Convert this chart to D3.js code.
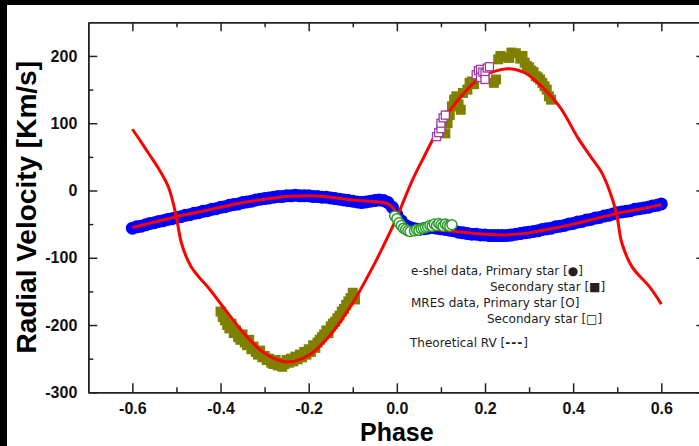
<!DOCTYPE html>
<html>
<head>
<meta charset="utf-8">
<script src="https://cdn.jsdelivr.net/npm/d3@7"></script>
<style>
  body { margin: 0; background: #000; }
  svg { display: block; }
  .tick text { font-family: "Liberation Sans", Arial, sans-serif; font-weight: bold; font-size: 16px; fill: #111; }
  .axis path, .axis line { stroke: #222; stroke-width: 1.5px; }
  .legend { font-family: "DejaVu Sans", sans-serif; font-size: 12px; fill: #222; }
</style>
</head>
<body>
<svg id="plot"></svg>
<script>
// e-shel primary star RV [phase, km/s]
const eshelPrimary = [
  [-0.60,-56],[-0.59,-54],[-0.58,-53],[-0.57,-51],[-0.56,-49],[-0.55,-48],[-0.54,-46],[-0.53,-45],
  [-0.52,-43],[-0.51,-42],[-0.50,-40],[-0.49,-39],[-0.48,-37],[-0.47,-36],[-0.46,-34],[-0.45,-33],
  [-0.44,-31],[-0.43,-30],[-0.42,-28],[-0.41,-27],[-0.40,-25],[-0.39,-24],[-0.38,-22],[-0.37,-21],
  [-0.36,-20],[-0.35,-18],[-0.34,-17],[-0.33,-16],[-0.32,-14],[-0.31,-13],[-0.30,-12],[-0.29,-11],
  [-0.28,-10],[-0.27,-9],[-0.26,-9],[-0.25,-8],[-0.24,-8],[-0.23,-7],[-0.22,-8],[-0.21,-8],
  [-0.20,-8],[-0.19,-9],[-0.18,-9],[-0.17,-10],[-0.16,-10],[-0.15,-11],[-0.14,-12],[-0.13,-13],
  [-0.12,-14],[-0.11,-15],[-0.10,-16],[-0.09,-17],[-0.08,-18],[-0.07,-17],[-0.06,-16],[-0.05,-15],
  [-0.04,-14],[-0.03,-15],[-0.02,-18],[-0.01,-25],[0.00,-36],[0.01,-45],[0.02,-52],[0.03,-55],
  [0.04,-57],[0.05,-58],[0.06,-57],[0.07,-56],[0.08,-55],[0.09,-56],[0.10,-57],[0.11,-58],
  [0.12,-59],[0.13,-60],[0.14,-62],[0.15,-63],[0.16,-64],[0.17,-65],[0.18,-65],[0.19,-66],
  [0.20,-66],[0.21,-67],[0.22,-67],[0.23,-67],[0.24,-67],[0.25,-67],[0.26,-66],[0.27,-65],
  [0.28,-64],[0.29,-63],[0.30,-62],[0.31,-61],[0.32,-60],[0.33,-58],[0.34,-57],[0.35,-56],
  [0.36,-54],[0.37,-53],[0.38,-52],[0.39,-50],[0.40,-49],[0.41,-47],[0.42,-46],[0.43,-44],
  [0.44,-43],[0.45,-41],[0.46,-40],[0.47,-38],[0.48,-37],[0.49,-35],[0.50,-33],[0.51,-32],
  [0.52,-31],[0.53,-30],[0.54,-28],[0.55,-27],[0.56,-26],[0.57,-25],[0.58,-23],[0.59,-22],[0.60,-20]
];

// e-shel secondary star RV
const eshelSecondary = [
  [-0.40,-180],[-0.395,-188],[-0.39,-193],[-0.385,-200],[-0.38,-205],[-0.375,-198],[-0.37,-212],
  [-0.365,-208],[-0.36,-218],[-0.355,-222],[-0.35,-214],[-0.345,-226],[-0.34,-230],[-0.335,-222],
  [-0.33,-236],[-0.325,-232],[-0.32,-240],[-0.315,-244],[-0.31,-238],[-0.305,-248],[-0.30,-246],
  [-0.295,-252],[-0.29,-250],[-0.285,-256],[-0.28,-258],[-0.275,-252],[-0.27,-260],[-0.265,-256],
  [-0.26,-262],[-0.255,-258],[-0.25,-252],[-0.245,-256],[-0.24,-250],[-0.235,-254],[-0.23,-247],
  [-0.225,-251],[-0.22,-244],[-0.215,-248],[-0.21,-240],[-0.205,-244],[-0.20,-236],[-0.195,-240],
  [-0.19,-230],[-0.185,-234],[-0.18,-226],[-0.175,-222],[-0.17,-218],[-0.165,-214],[-0.16,-208],
  [-0.155,-212],[-0.15,-202],[-0.145,-198],[-0.14,-195],[-0.135,-190],[-0.13,-186],[-0.125,-180],
  [-0.12,-176],[-0.115,-170],[-0.11,-165],[-0.105,-160],[-0.10,-152],[-0.095,-162],
  [0.11,85],[0.115,100],[0.12,112],[0.125,125],[0.13,135],[0.135,140],[0.14,128],[0.145,120],
  [0.15,145],[0.16,150],[0.165,160],[0.17,162],[0.175,158],[0.19,175],[0.20,178],[0.22,160],
  [0.225,165],[0.23,195],[0.235,200],[0.24,198],[0.255,197],[0.26,205],[0.27,204],[0.28,196],
  [0.285,200],[0.29,190],[0.295,185],[0.30,183],[0.305,178],[0.31,176],[0.315,170],[0.32,168],
  [0.325,165],[0.33,160],[0.335,155],[0.34,150],[0.345,140],[0.35,135]
];

// MRES primary star RV
const mresPrimary = [
  [-0.005,-38],[0,-42],[0.005,-48],[0.01,-52],[0.015,-56],[0.02,-58],[0.025,-60],[0.03,-61],
  [0.04,-60],[0.045,-58],[0.05,-59],[0.055,-57],[0.06,-56],[0.065,-55],[0.07,-54],[0.075,-52],
  [0.08,-53],[0.085,-50],[0.09,-52],[0.095,-49],[0.1,-51],[0.105,-53],[0.11,-50],[0.115,-52],
  [0.12,-53],[0.125,-51]
];

// MRES secondary star RV
const mresSecondary = [
  [0.09,80],[0.095,86],[0.1,92],[0.1,100],[0.105,108],[0.11,112],
  [0.18,172],[0.185,178],[0.19,180],[0.19,168],[0.195,176],[0.2,174],[0.205,182],[0.21,184],[0.2,165]
];

// theoretical RV curves
const theoPrimary = [
  [-0.6,-55],[-0.55,-47],[-0.5,-39],[-0.45,-32],[-0.4,-25],[-0.35,-18],[-0.3,-13],[-0.25,-9],
  [-0.2,-8],[-0.15,-10],[-0.1,-14],[-0.06,-16],[-0.04,-17],[-0.02,-20],[-0.01,-25],[0,-35],
  [0.01,-45],[0.02,-52],[0.03,-56],[0.05,-58],[0.1,-59],[0.15,-62],[0.2,-65],[0.25,-66],
  [0.3,-63],[0.35,-57],[0.4,-50],[0.45,-42],[0.5,-34],[0.55,-28],[0.6,-21]
];
const theoSecondary = [
  [-0.6,91],[-0.58,72],[-0.56,52],[-0.54,32],[-0.52,8],[-0.51,-12],[-0.5,-40],[-0.49,-75],
  [-0.48,-95],[-0.466,-114],[-0.45,-128],[-0.427,-145],[-0.4,-168],[-0.35,-210],[-0.3,-242],
  [-0.25,-255],[-0.2,-245],[-0.15,-214],[-0.1,-167],[-0.05,-108],[-0.02,-68],[0,-40],[0.035,15],
  [0.06,48],[0.11,109],[0.16,150],[0.19,168],[0.25,181],[0.29,175],[0.32,160],[0.37,124],
  [0.41,79],[0.44,50],[0.466,25],[0.49,-15],[0.5,-40],[0.51,-77],[0.534,-114],[0.573,-143],[0.6,-169]
];

// tick values
const xMajor = [-0.6, -0.4, -0.2, 0.0, 0.2, 0.4, 0.6];
const xMinor = [-0.5, -0.3, -0.1, 0.1, 0.3, 0.5];
const yMajor = [-300, -200, -100, 0, 100, 200];
const yMinor = [-250, -150, -50, 50, 150];

const legendLines = [
  "e-shel data, Primary star [\u25CF]",
  "Secondary star [\u25A0]",
  "MRES data, Primary star [O]",
  "Secondary star [\u25A1]"
];

// init setting
const W = 699, H = 446;
const svg = d3.select("#plot").attr("width", W).attr("height", H);

// black frame on top/left, white canvas
svg.append("rect").attr("width", W).attr("height", H).attr("fill", "#000");
svg.append("rect").attr("x", 7).attr("y", 5).attr("width", W - 7).attr("height", H - 5).attr("fill", "#fff");

const margin = { left: 88.3, right: 705.4, top: 22.3, bottom: 392.3 };
const x = d3.scaleLinear().domain([-0.7, 0.7]).range([margin.left, margin.right]);
const y = d3.scaleLinear().domain([-300, 250]).range([margin.bottom, margin.top]);

// axes (ticks point inward), plain hyphen as minus sign
function addAxis(axis, tx, ty) {
  svg.append("g").attr("class", "axis").attr("transform", `translate(${tx},${ty})`).call(axis);
}
addAxis(d3.axisBottom(x).tickValues(xMajor).tickSize(-9).tickSizeOuter(0).tickPadding(10).tickFormat(d => d.toFixed(1)), 0, margin.bottom);
addAxis(d3.axisBottom(x).tickValues(xMinor).tickSize(-5).tickSizeOuter(0).tickFormat(""), 0, margin.bottom);
addAxis(d3.axisTop(x).tickValues(xMajor).tickSize(-9).tickSizeOuter(0).tickFormat(""), 0, margin.top);
addAxis(d3.axisTop(x).tickValues(xMinor).tickSize(-5).tickSizeOuter(0).tickFormat(""), 0, margin.top);
addAxis(d3.axisLeft(y).tickValues(yMajor).tickSize(-9).tickSizeOuter(0).tickPadding(11).tickFormat(d => String(d)), margin.left, 0);
addAxis(d3.axisLeft(y).tickValues(yMinor).tickSize(-5).tickSizeOuter(0).tickFormat(""), margin.left, 0);
addAxis(d3.axisRight(y).tickValues(yMajor).tickSize(-9).tickSizeOuter(0).tickFormat(""), margin.right, 0);
addAxis(d3.axisRight(y).tickValues(yMinor).tickSize(-5).tickSizeOuter(0).tickFormat(""), margin.right, 0);

// e-shel secondary (olive squares)
const sq = 10;
svg.append("g").selectAll("rect")
  .data(eshelSecondary).enter().append("rect")
  .attr("x", d => x(d[0]) - sq / 2)
  .attr("y", d => y(d[1]) - sq / 2)
  .attr("width", sq).attr("height", sq)
  .attr("fill", "#808000");

// e-shel primary (blue dots)
svg.append("g").selectAll("circle")
  .data(eshelPrimary).enter().append("circle")
  .attr("cx", d => x(d[0]))
  .attr("cy", d => y(d[1]))
  .attr("r", 6.5)
  .attr("fill", "#0000ff");

// theoretical curves
const line = d3.line().x(d => x(d[0])).y(d => y(d[1])).curve(d3.curveCatmullRom);
[theoPrimary, theoSecondary].forEach(c => {
  svg.append("path").attr("d", line(c))
    .attr("fill", "none").attr("stroke", "#ff0000").attr("stroke-width", 3);
});

// MRES secondary (open squares)
const msq = 8;
svg.append("g").selectAll("rect")
  .data(mresSecondary).enter().append("rect")
  .attr("x", d => x(d[0]) - msq / 2)
  .attr("y", d => y(d[1]) - msq / 2)
  .attr("width", msq).attr("height", msq)
  .attr("fill", "#fff").attr("stroke", "#a03ca0").attr("stroke-width", 1.3);

// MRES primary (open circles)
svg.append("g").selectAll("circle")
  .data(mresPrimary).enter().append("circle")
  .attr("cx", d => x(d[0]))
  .attr("cy", d => y(d[1]))
  .attr("r", 5)
  .attr("fill", "#fff").attr("stroke", "#2a9a2a").attr("stroke-width", 1.5);

// legend
const legendPos = [[411, 275], [490, 291], [411, 307], [487, 323]];
legendLines.forEach((t, i) => {
  svg.append("text").attr("class", "legend")
    .attr("x", legendPos[i][0]).attr("y", legendPos[i][1]).text(t);
});
const theo = svg.append("text").attr("class", "legend").attr("x", 410).attr("y", 347);
theo.append("tspan").text("Theoretical RV [");
theo.append("tspan").attr("font-weight", "bold").attr("letter-spacing", "1px").text("---");
theo.append("tspan").text("]");

// axis titles
svg.append("text")
  .attr("x", (margin.left + margin.right) / 2).attr("y", 440.5)
  .attr("text-anchor", "middle")
  .style("font-family", "Liberation Sans, Arial, sans-serif")
  .style("font-weight", "bold").style("font-size", "25px")
  .text("Phase");
svg.append("text")
  .attr("transform", `translate(36,${(margin.top + margin.bottom) / 2}) rotate(-90)`)
  .attr("text-anchor", "middle")
  .style("font-family", "Liberation Sans, Arial, sans-serif")
  .style("font-weight", "bold").style("font-size", "28px")
  .text("Radial Velocity [Km/s]");
</script>
</body>
</html>
